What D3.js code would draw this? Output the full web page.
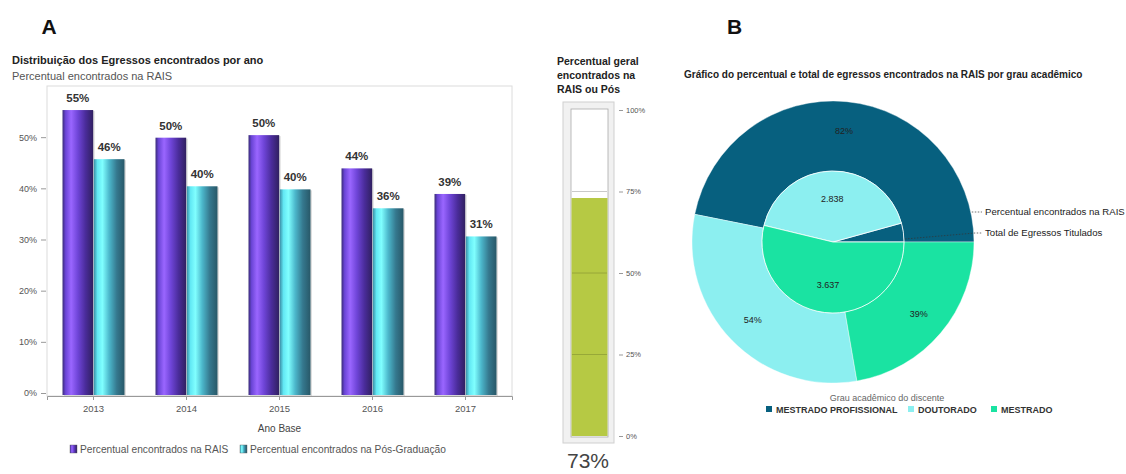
<!DOCTYPE html>
<html>
<head>
<meta charset="utf-8">
<script src="https://cdn.jsdelivr.net/npm/d3@7"></script>
<style>
  html, body { margin: 0; padding: 0; background: #fff; }
  svg { display: block; font-family: "Liberation Sans", Arial, sans-serif; }
</style>
</head>
<body>
<svg id="chart" width="1126" height="474"></svg>
<script>
// ---- data ----
const years = ["2013", "2014", "2015", "2016", "2017"];
const raisPct = [55.3, 49.9, 50.4, 43.9, 38.9];
const posPct = [45.7, 40.4, 39.8, 36.1, 30.6];
const yTicks = [0, 10, 20, 30, 40, 50];
const seriesNames = ["Percentual encontrados na RAIS", "Percentual encontrados na Pós-Graduação"];

const overallPct = 73;
const gaugeTicks = [0, 25, 50, 75, 100];

const degrees = ["MESTRADO PROFISSIONAL", "DOUTORADO", "MESTRADO"];
const degreeRaisPct = [82, 54, 39];
const degreeTitled = [290, 2838, 3637];

const svg = d3.select("#chart");
const ptBR = d3.formatLocale({ decimal: ",", thousands: ".", grouping: [3], currency: ["R$", ""] });
const fmtInt = ptBR.format(",d");
const fmtPct = v => Math.round(v) + "%";

// ---- panel letters ----
svg.append("text").attr("x", 49).attr("y", 34).attr("text-anchor", "middle")
  .attr("font-size", 21).attr("font-weight", "bold").attr("fill", "#111").text("A");
svg.append("text").attr("x", 727).attr("y", 34)
  .attr("font-size", 21).attr("font-weight", "bold").attr("fill", "#111").text("B");

// ---- gradients for the bars ----
const defs = svg.append("defs");
function hGrad(id, stops) {
  const g = defs.append("linearGradient").attr("id", id)
    .attr("x1", "0%").attr("x2", "100%").attr("y1", "0%").attr("y2", "0%");
  stops.forEach(([o, c]) => g.append("stop").attr("offset", o).attr("stop-color", c));
}
hGrad("gRais", [["0%", "#3a2c78"], ["10%", "#6a45d6"], ["28%", "#9a66ff"], ["50%", "#6f45d8"], ["75%", "#4a2c9a"], ["100%", "#302060"]]);
hGrad("gPos", [["0%", "#3b8ea6"], ["12%", "#62e8f4"], ["28%", "#80ffff"], ["50%", "#4cb8cc"], ["75%", "#35788e"], ["100%", "#285868"]]);

// ---- bar chart ----
const plot = { left: 47, right: 512, top: 86, bottom: 393 };
svg.append("text").attr("x", 12).attr("y", 64).attr("font-size", 11).attr("font-weight", "bold")
  .attr("fill", "#222").text("Distribuição dos Egressos encontrados por ano");
svg.append("text").attr("x", 12).attr("y", 80).attr("font-size", 11)
  .attr("fill", "#555").text("Percentual encontrados na RAIS");

svg.append("rect").attr("x", plot.left).attr("y", plot.top)
  .attr("width", plot.right - plot.left).attr("height", plot.bottom + 3 - plot.top)
  .attr("fill", "none").attr("stroke", "#dcdcdc");

const y = d3.scaleLinear().domain([0, 60]).range([plot.bottom, plot.top]);
const x0 = d3.scaleBand().domain(years).range([plot.left, plot.right]).paddingInner(0.32).paddingOuter(0.16);
const x1 = d3.scaleBand().domain([0, 1]).range([0, x0.bandwidth()]).padding(0.02);

const yAxis = svg.append("g").attr("transform", `translate(${plot.left - 1},0)`)
  .call(d3.axisLeft(y).tickValues(yTicks).tickFormat(d => d + "%").tickSize(5).tickPadding(4));
yAxis.select(".domain").remove();
yAxis.selectAll("line").attr("stroke", "#999");
yAxis.selectAll("text").attr("font-size", 9).attr("fill", "#555").attr("font-family", "Liberation Sans, Arial, sans-serif");

const xAxis = svg.append("g").attr("transform", `translate(0,${plot.bottom + 3})`)
  .call(d3.axisBottom(x0).tickSize(4).tickPadding(5));
xAxis.select(".domain").attr("stroke", "#999");
xAxis.selectAll("line").attr("stroke", "#999");
xAxis.selectAll("text").attr("font-size", 9.5).attr("fill", "#555").attr("font-family", "Liberation Sans, Arial, sans-serif");

svg.append("text").attr("x", (plot.left + plot.right) / 2).attr("y", 432).attr("text-anchor", "middle")
  .attr("font-size", 10).attr("fill", "#444").text("Ano Base");

const rows = years.map((yr, i) => ({ yr, vals: [raisPct[i], posPct[i]] }));
const groups = svg.append("g").selectAll("g").data(rows).join("g")
  .attr("transform", d => `translate(${x0(d.yr)},0)`);
const cells = groups.selectAll("g").data(d => d.vals.map((v, k) => ({ v, k }))).join("g");
cells.append("rect")
  .attr("x", d => x1(d.k) + 1.5).attr("y", d => y(d.v) + 1)
  .attr("width", x1.bandwidth()).attr("height", d => plot.bottom - y(d.v) + 2)
  .attr("fill", "#c8c8c8").attr("opacity", 0.6);
cells.append("rect")
  .attr("x", d => x1(d.k)).attr("y", d => y(d.v))
  .attr("width", x1.bandwidth()).attr("height", d => plot.bottom + 2 - y(d.v))
  .attr("fill", d => d.k === 0 ? "url(#gRais)" : "url(#gPos)");
cells.append("text")
  .attr("x", d => x1(d.k) + x1.bandwidth() / 2).attr("y", d => y(d.v) - 8)
  .attr("text-anchor", "middle").attr("font-size", 11.5).attr("font-weight", "bold")
  .attr("fill", "#333").text(d => fmtPct(d.v));

// legend
const legA = svg.append("g").attr("transform", "translate(70,445)");
const legAItems = [{ name: seriesNames[0], fill: "url(#gRais)", x: 0 }, { name: seriesNames[1], fill: "url(#gPos)", x: 170 }];
legA.selectAll("g").data(legAItems).join("g").attr("transform", d => `translate(${d.x},0)`).each(function (d) {
  const g = d3.select(this);
  g.append("rect").attr("width", 7).attr("height", 8).attr("fill", d.fill).attr("stroke", "#555").attr("stroke-width", 0.4);
  g.append("text").attr("x", 10).attr("y", 8).attr("font-size", 10.2).attr("fill", "#555").text(d.name);
});

// ---- overall gauge ----
const gTitle = ["Percentual geral", "encontrados na", "RAIS ou Pós"];
svg.append("g").selectAll("text").data(gTitle).join("text")
  .attr("x", 557).attr("y", (d, i) => 65 + i * 14)
  .attr("font-size", 10.5).attr("font-weight", "bold").attr("fill", "#222").text(d => d);

const gy = d3.scaleLinear().domain([0, 100]).range([436, 110]);
svg.append("rect").attr("x", 563).attr("y", 102).attr("width", 51).attr("height", 341)
  .attr("fill", "#f1f1f1").attr("stroke", "#cfcfcf");
svg.append("rect").attr("x", 571).attr("y", gy(100) - 1).attr("width", 37).attr("height", gy(0) - gy(100) + 2)
  .attr("fill", "#fff").attr("stroke", "#aaa").attr("stroke-width", 0.8);
svg.append("rect").attr("x", 571.5).attr("y", gy(overallPct)).attr("width", 36).attr("height", gy(0) - gy(overallPct))
  .attr("fill", "#b6c944");
svg.append("g").selectAll("line").data(gaugeTicks.filter(t => t > 0 && t < 100)).join("line")
  .attr("x1", 572).attr("x2", 607).attr("y1", d => gy(d)).attr("y2", d => gy(d))
  .attr("stroke", d => d <= overallPct ? "#8f9f35" : "#bbb").attr("stroke-width", 0.8);
const gAxis = svg.append("g").attr("transform", "translate(619,0)")
  .call(d3.axisRight(gy).tickValues(gaugeTicks).tickFormat(d => d + "%").tickSize(4).tickPadding(3));
gAxis.select(".domain").remove();
gAxis.selectAll("line").attr("stroke", "#999");
gAxis.selectAll("text").attr("font-size", 7.5).attr("fill", "#555").attr("font-family", "Liberation Sans, Arial, sans-serif");
svg.append("text").attr("x", 588).attr("y", 468).attr("text-anchor", "middle")
  .attr("font-size", 21).attr("fill", "#444").text(fmtPct(overallPct));

// ---- nested pie by academic degree ----
svg.append("text").attr("x", 684).attr("y", 78).attr("font-size", 10).attr("font-weight", "bold")
  .attr("fill", "#222").text("Gráfico do percentual e total de egressos encontrados na RAIS por grau acadêmico");

const color = d3.scaleOrdinal().domain(degrees).range(["#07607f", "#8ceff0", "#1ae3a2"]);
const cx = 833, cy = 242, rIn = 71, rOut = 141;
const pie = d3.pie().sort(null).startAngle(Math.PI / 2).endAngle(Math.PI / 2 - 2 * Math.PI);
const pg = svg.append("g").attr("transform", `translate(${cx},${cy})`);

const outerArcs = pie(degreeRaisPct).map((a, i) => Object.assign(a, { name: degrees[i] }));
const innerArcs = pie(degreeTitled).map((a, i) => Object.assign(a, { name: degrees[i] }));

const arcOut = d3.arc().innerRadius(rIn).outerRadius(rOut);
const arcIn = d3.arc().innerRadius(0).outerRadius(rIn);
pg.selectAll("path.outer").data(outerArcs).join("path").attr("class", "outer")
  .attr("d", arcOut).attr("fill", d => color(d.name)).attr("stroke", "#fff").attr("stroke-width", 0.4);
pg.selectAll("path.inner").data(innerArcs).join("path").attr("class", "inner")
  .attr("d", arcIn).attr("fill", d => color(d.name)).attr("stroke", "#fff").attr("stroke-width", 0.8);

const labOut = d3.arc().innerRadius(112).outerRadius(112);
const labIn = d3.arc().innerRadius(43).outerRadius(43);
pg.selectAll("text.outer").data(outerArcs).join("text").attr("class", "outer")
  .attr("transform", d => `translate(${labOut.centroid(d)})`).attr("text-anchor", "middle").attr("dy", "0.35em")
  .attr("font-size", 9).attr("fill", "#222").text(d => d.data + "%");
pg.selectAll("text.inner").data(innerArcs.filter(d => Math.abs(d.endAngle - d.startAngle) > 0.5)).join("text").attr("class", "inner")
  .attr("transform", d => `translate(${labIn.centroid(d)})`).attr("text-anchor", "middle").attr("dy", "0.35em")
  .attr("font-size", 9).attr("fill", "#222").text(d => fmtInt(d.data));

// series call-outs
const ringY = -30;
const ringX = Math.sqrt(rOut * rOut - ringY * ringY);
svg.append("line").attr("x1", cx + ringX + 1).attr("x2", 982).attr("y1", cy + ringY).attr("y2", cy + ringY)
  .attr("stroke", "#333").attr("stroke-width", 0.7).attr("stroke-dasharray", "1.5,1.5");
svg.append("text").attr("x", 985).attr("y", cy + ringY + 3).attr("font-size", 9.6).attr("fill", "#222")
  .text("Percentual encontrados na RAIS");
svg.append("polyline")
  .attr("points", [[cx + rIn + 1, cy - 3], [975, cy - 9], [982, cy - 9]].map(p => p.join(",")).join(" "))
  .attr("fill", "none").attr("stroke", "#333").attr("stroke-width", 0.7).attr("stroke-dasharray", "1.5,1.5");
svg.append("text").attr("x", 985).attr("y", cy - 6).attr("font-size", 9.6).attr("fill", "#222")
  .text("Total de Egressos Titulados");

// legend
svg.append("text").attr("x", 887).attr("y", 401).attr("text-anchor", "middle").attr("font-size", 9)
  .attr("fill", "#666").text("Grau acadêmico do discente");
const legB = svg.append("g");
const legBx = [766, 908, 991];
legB.selectAll("g").data(degrees).join("g").attr("transform", (d, i) => `translate(${legBx[i]},405)`).each(function (d) {
  const g = d3.select(this);
  g.append("rect").attr("y", 1).attr("width", 6).attr("height", 6).attr("fill", color(d));
  g.append("text").attr("x", 10).attr("y", 8).attr("font-size", 9).attr("font-weight", "bold")
    .attr("fill", "#333").text(d);
});
</script>
</body>
</html>
